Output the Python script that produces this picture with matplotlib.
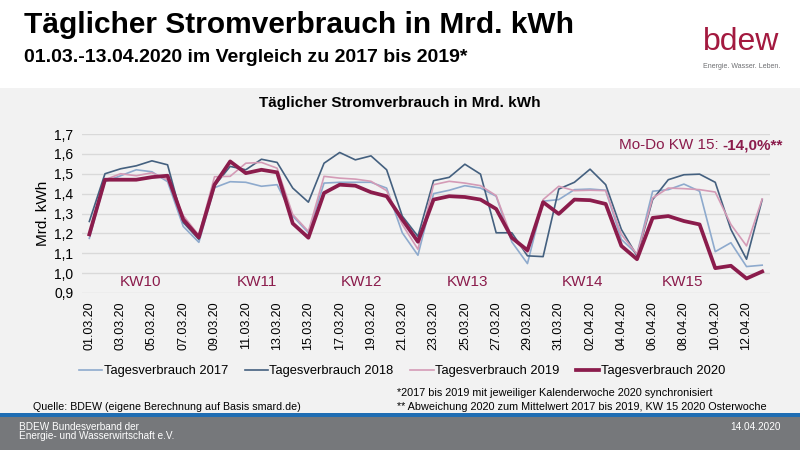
import numpy as np
import matplotlib
matplotlib.use('Agg')
import matplotlib.pyplot as plt
from matplotlib.patches import Rectangle

# Daily values, 01.03. - 13.04. (44 days)
days = ['%02d.03.20' % d for d in range(1, 32)] + ['%02d.04.20' % d for d in range(1, 14)]

v2017 = [1.175, 1.46, 1.49, 1.52, 1.51, 1.46, 1.235, 1.155, 1.43, 1.46, 1.457,
         1.437, 1.445, 1.287, 1.203, 1.453, 1.457, 1.457, 1.457, 1.428, 1.203, 1.09,
         1.40, 1.417, 1.44, 1.428, 1.387, 1.157, 1.048, 1.362, 1.37, 1.42, 1.423,
         1.417, 1.17, 1.095, 1.412, 1.42, 1.448, 1.412, 1.108, 1.153, 1.033, 1.04]
v2018 = [1.26, 1.50, 1.525, 1.54, 1.565, 1.545, 1.255, 1.17, 1.44, 1.537, 1.52,
         1.573, 1.557, 1.428, 1.357, 1.553, 1.607, 1.57, 1.59, 1.52, 1.287, 1.185,
         1.465, 1.482, 1.548, 1.498, 1.203, 1.203, 1.087, 1.083, 1.423, 1.457, 1.523,
         1.445, 1.22, 1.087, 1.37, 1.47, 1.495, 1.498, 1.457, 1.22, 1.07, 1.37]
v2019 = [1.19, 1.47, 1.50, 1.49, 1.505, 1.47, 1.29, 1.19, 1.485, 1.487, 1.553,
         1.557, 1.528, 1.295, 1.21, 1.487, 1.478, 1.473, 1.462, 1.415, 1.245, 1.12,
         1.445, 1.462, 1.453, 1.44, 1.39, 1.178, 1.103, 1.37, 1.437, 1.415, 1.417,
         1.415, 1.195, 1.095, 1.378, 1.428, 1.425, 1.42, 1.408, 1.245, 1.137, 1.373]
v2020 = [1.195, 1.47, 1.47, 1.47, 1.483, 1.49, 1.27, 1.18, 1.445, 1.562, 1.503,
         1.52, 1.507, 1.25, 1.178, 1.403, 1.445, 1.44, 1.407, 1.387, 1.27, 1.158,
         1.37, 1.387, 1.383, 1.37, 1.323, 1.178, 1.115, 1.357, 1.298, 1.37, 1.367,
         1.348, 1.137, 1.07, 1.278, 1.287, 1.262, 1.245, 1.025, 1.037, 0.973, 1.008]

kw_labels = ['KW10', 'KW11', 'KW12', 'KW13', 'KW14', 'KW15']
kw_pos = [3.3, 10.7, 17.4, 24.2, 31.5, 37.9]

NARROW = ['Liberation Sans Narrow', 'Liberation Sans', 'DejaVu Sans']
plt.rcParams['font.family'] = ['Liberation Sans', 'DejaVu Sans']

maroon = '#8b1c4c'
bg = '#f2f2f2'

fig = plt.figure(figsize=(8, 4.5), dpi=100)
fig.patch.set_facecolor('white')

# background bands
fig.patches.append(Rectangle((0, 37 / 450), 1, (413 - 88) / 450, transform=fig.transFigure,
                             facecolor=bg, edgecolor='none', zorder=-10))
fig.patches.append(Rectangle((0, 33 / 450), 1, 4 / 450, transform=fig.transFigure,
                             facecolor='#1f6db3', edgecolor='none', zorder=-10))
fig.patches.append(Rectangle((0, 0), 1, 33 / 450, transform=fig.transFigure,
                             facecolor='#76787b', edgecolor='none', zorder=-10))

ax = fig.add_axes([81.5 / 800, 157 / 450, 688.5 / 800, 159 / 450])
ax.set_facecolor(bg)
x = np.arange(len(days))
ax.plot(x, v2017, color='#8eaacd', lw=1.2, label='Tagesverbrauch 2017')
ax.plot(x, v2018, color='#44607f', lw=1.2, label='Tagesverbrauch 2018')
ax.plot(x, v2019, color='#d49bb6', lw=1.2, label='Tagesverbrauch 2019')
ax.plot(x, v2020, color=maroon, lw=2.7, label='Tagesverbrauch 2020')

ax.set_xlim(-0.5, 43.5)
ax.set_ylim(0.9, 1.7)
yt = np.arange(0.9, 1.71, 0.1)
ax.set_yticks(yt)
ax.set_yticklabels([('%.1f' % v).replace('.', ',') for v in yt], fontsize=10)
ax.set_xticks(x[::2])
ax.set_xticklabels(days[::2], rotation=90, fontsize=9)
ax.grid(axis='y', color='#d9d9d9', lw=1)
ax.set_axisbelow(True)
ax.tick_params(length=0, pad=6)
for s in ax.spines.values():
    s.set_visible(False)
ax.set_ylabel('Mrd. kWh', fontsize=11, labelpad=3)

for lab, p in zip(kw_labels, kw_pos):
    ax.text(p, 0.955, lab, color=maroon, fontsize=11, ha='center', va='center')

# annotation with bold part
fig.canvas.draw()
r = fig.canvas.get_renderer()
tb = fig.text(783 / 800, 1 - 145 / 450, '-14,0%**', color=maroon, fontsize=11,
              fontweight='bold', ha='right', va='center')
w = tb.get_window_extent(renderer=r).width
fig.text(783 / 800 - w / 800, 1 - 145 / 450, 'Mo-Do KW 15: ', color=maroon, fontsize=11,
         ha='right', va='center')

fig.text(0.5, 1 - 103 / 450, 'Täglicher Stromverbrauch in Mrd. kWh', fontsize=11,
         fontweight='bold', ha='center', va='center')

# header
fig.text(24 / 800, 1 - 25 / 450, 'Täglicher Stromverbrauch in Mrd. kWh', family=NARROW,
         fontsize=21.5, fontweight='bold', ha='left', va='center')
fig.text(24 / 800, 1 - 58 / 450, '01.03.-13.04.2020 im Vergleich zu 2017 bis 2019*',
         family=NARROW, fontsize=14, fontweight='bold', ha='left', va='center')
fig.text(741 / 800, 1 - 42 / 450, 'bdew', color='#a3193f', fontsize=23,
         ha='center', va='center')
fig.text(742 / 800, 1 - 66 / 450, 'Energie. Wasser. Leben.', color='#6d6e71', fontsize=5,
         family=NARROW, ha='center', va='center')

fig.legend(loc='center', bbox_to_anchor=(0.5025, 1 - 371 / 450), ncol=4, frameon=False,
           fontsize=9.3, handlelength=1.8, handletextpad=0.1, columnspacing=1.3)

fig.text(397 / 800, 1 - 393 / 450,
         '*2017 bis 2019 mit jeweiliger Kalenderwoche 2020 synchronisiert',
         family=NARROW, fontsize=7.8, ha='left', va='center')
fig.text(397 / 800, 1 - 407 / 450,
         '** Abweichung 2020 zum Mittelwert 2017 bis 2019, KW 15 2020 Osterwoche',
         family=NARROW, fontsize=7.8, ha='left', va='center')
fig.text(33 / 800, 1 - 407 / 450, 'Quelle: BDEW (eigene Berechnung auf Basis smard.de)',
         family=NARROW, fontsize=7.7, ha='left', va='center')

# footer
fig.text(19 / 800, 1 - 426.5 / 450, 'BDEW Bundesverband der', color='white', family=NARROW,
         fontsize=7.2, ha='left', va='center')
fig.text(19 / 800, 1 - 436 / 450, 'Energie- und Wasserwirtschaft e.V.', color='white',
         family=NARROW, fontsize=7.2, ha='left', va='center')
fig.text(781 / 800, 1 - 426.5 / 450, '14.04.2020', color='white', family=NARROW,
         fontsize=7.2, ha='right', va='center')

fig.savefig('out.png', dpi=100, facecolor=fig.get_facecolor())
